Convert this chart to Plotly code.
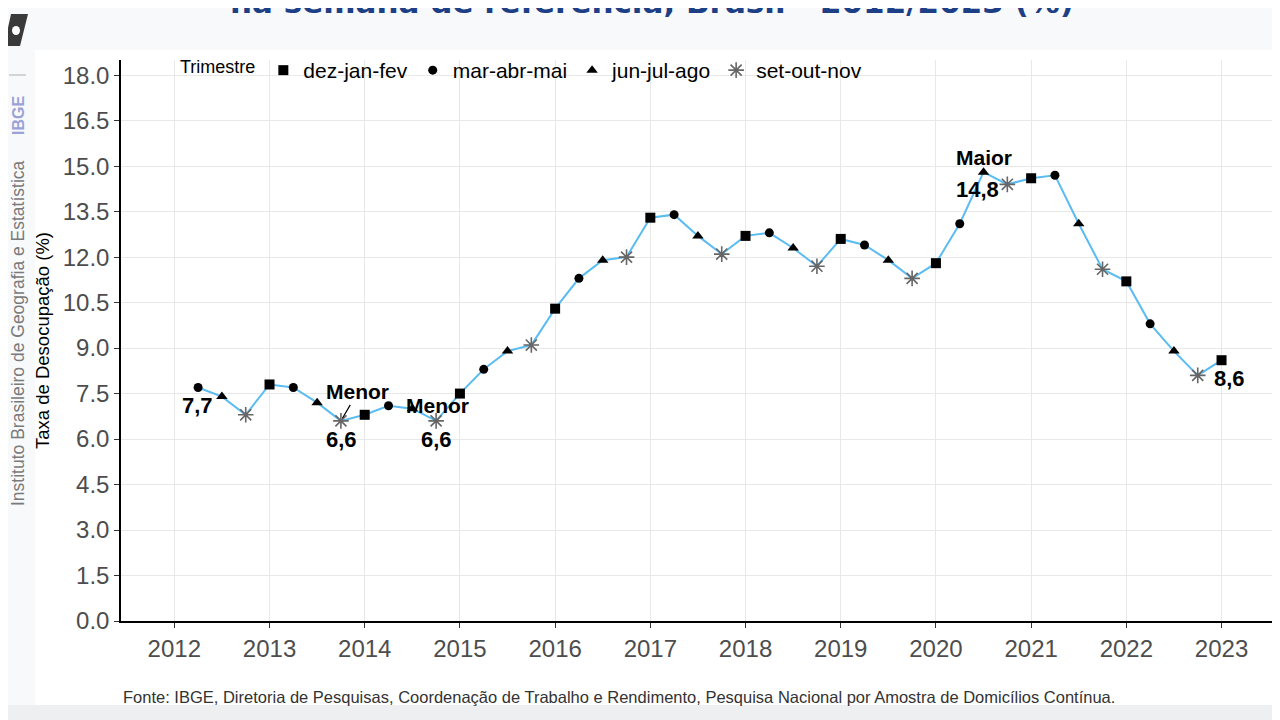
import plotly.graph_objects as go

# ---------------- data ----------------
trimestres = ["dez-jan-fev", "mar-abr-mai", "jun-jul-ago", "set-out-nov"]
trim_offset = {"dez-jan-fev": 0.0, "mar-abr-mai": 0.25, "jun-jul-ago": 0.5, "set-out-nov": 0.75}

anos = ([2012] * 3 + [2013] * 4 + [2014] * 4 + [2015] * 4 + [2016] * 4 + [2017] * 4 +
        [2018] * 4 + [2019] * 4 + [2020] * 4 + [2021] * 4 + [2022] * 4 + [2023])
trims = (trimestres[1:] + trimestres * 10 + trimestres[:1])
taxa = [7.7, 7.4, 6.8,
        7.8, 7.7, 7.2, 6.6,
        6.8, 7.1, 7.0, 6.6,
        7.5, 8.3, 8.9, 9.1,
        10.3, 11.3, 11.9, 12.0,
        13.3, 13.4, 12.7, 12.1,
        12.7, 12.8, 12.3, 11.7,
        12.6, 12.4, 11.9, 11.3,
        11.8, 13.1, 14.8, 14.4,
        14.6, 14.7, 13.1, 11.6,
        11.2, 9.8, 8.9, 8.1,
        8.6]

y_ticks = [0.0, 1.5, 3.0, 4.5, 6.0, 7.5, 9.0, 10.5, 12.0, 13.5, 15.0, 16.5, 18.0]
x_ticks = list(range(2012, 2024))

xpos = [a + trim_offset[t] for a, t in zip(anos, trims)]

FONT = "Liberation Sans, Arial, sans-serif"

# ---------------- geometry (page pixels -> paper); page has an 8px body margin ----------------
OFF = 8
W, H = 1280 - OFF, 720 - OFF
L, R, T, B = 113, 8, 52, 99
PW, PH = W - L - R, H - T - B
def px(x):
    return (x - OFF - L) / PW
def py(y):
    return (H - B - (y - OFF)) / PH

fig = go.Figure()

# line
fig.add_trace(go.Scatter(x=xpos, y=taxa, mode="lines",
                         line=dict(color="#5bbcf2", width=2), showlegend=False,
                         hoverinfo="skip"))

sym = {"dez-jan-fev": "square", "mar-abr-mai": "circle",
       "jun-jul-ago": "triangle-up", "set-out-nov": "asterisk-open"}
size = {"dez-jan-fev": 10, "mar-abr-mai": 9, "jun-jul-ago": 10, "set-out-nov": 13}
for t in trimestres:
    xs = [x for x, tt in zip(xpos, trims) if tt == t]
    ys = [v for v, tt in zip(taxa, trims) if tt == t]
    if t == "set-out-nov":
        marker = dict(symbol=sym[t], size=size[t], color="#666666",
                      line=dict(color="#666666", width=1.6))
    else:
        marker = dict(symbol=sym[t], size=size[t], color="black",
                      line=dict(width=0))
    fig.add_trace(go.Scatter(x=xs, y=ys, mode="markers", name=t, marker=marker))

# ---------------- annotations on points ----------------
def pt(i):
    return xpos[i], taxa[i]

num_font = dict(family=FONT, size=22, color="black")
word_font = dict(family=FONT, size=21, color="black")
def fmt(v):
    return ("%.1f" % v).replace(".", ",")

ann = []
x, y = pt(0)
ann.append(dict(x=x, y=y, text="<b>%s</b>" % fmt(y), showarrow=False, xshift=-1, yshift=-18, font=num_font))
i1 = 6
x, y = pt(i1)
ann.append(dict(x=x, y=y, text="<b>Menor</b>", showarrow=True, arrowhead=0, arrowwidth=1.2,
                arrowcolor="black", ax=17, ay=-29, standoff=3, font=word_font))
ann.append(dict(x=x, y=y, text="<b>%s</b>" % fmt(y), showarrow=False, xshift=1, yshift=-19, font=num_font))
i2 = 10
x, y = pt(i2)
ann.append(dict(x=x, y=y, text="<b>Menor</b>", showarrow=False, xshift=1, yshift=15, font=word_font))
ann.append(dict(x=x, y=y, text="<b>%s</b>" % fmt(y), showarrow=False, xshift=0, yshift=-19, font=num_font))
im = taxa.index(max(taxa))
x, y = pt(im)
ann.append(dict(x=x, y=y, text="<b>Maior</b>", showarrow=False, xshift=0, yshift=15, font=word_font))
ann.append(dict(x=x, y=y, text="<b>%s</b>" % fmt(y), showarrow=False, xshift=-6, yshift=-17, font=num_font))
x, y = pt(len(taxa) - 1)
ann.append(dict(x=x, y=y, text="<b>%s</b>" % fmt(y), showarrow=False, xshift=8, yshift=-18, font=num_font))

# ---------------- page decorations ----------------
ann.append(dict(xref="paper", yref="paper", x=px(652), y=py(2), xanchor="center", yanchor="middle",
                text="<b>na semana de referência, Brasil - 2012/2023 (%)</b>", showarrow=False,
                font=dict(family="DejaVu Sans, Verdana, sans-serif", size=31, color="#1d3f86")))
ann.append(dict(xref="paper", yref="paper", x=px(121), y=py(697), xanchor="left", yanchor="middle",
                text="Fonte: IBGE, Diretoria de Pesquisas, Coordenação de Trabalho e Rendimento, Pesquisa Nacional por Amostra de Domicílios Contínua.",
                showarrow=False, font=dict(family=FONT, size=16.5, color="#333333")))
ann.append(dict(xref="paper", yref="paper", x=px(18), y=py(333), xanchor="center", yanchor="middle",
                text="Instituto Brasileiro de Geografia e Estatística", textangle=-90,
                showarrow=False, font=dict(family=FONT, size=17.5, color="#7a7a7a")))
ann.append(dict(xref="paper", yref="paper", x=px(18), y=py(116), xanchor="center", yanchor="middle",
                text="<b>IBGE</b>", textangle=-90,
                showarrow=False, font=dict(family=FONT, size=16, color="#9aa2d8")))

shapes = [
    dict(type="rect", xref="paper", yref="paper", x0=px(0), x1=px(1280), y0=py(720), y1=py(0),
         fillcolor="#f8f9fa", line=dict(width=0), layer="below"),
    dict(type="rect", xref="paper", yref="paper", x0=px(35), x1=px(1280), y0=py(705), y1=py(50),
         fillcolor="white", line=dict(width=0), layer="below"),
    dict(type="rect", xref="paper", yref="paper", x0=px(0), x1=px(1280), y0=py(720), y1=py(705),
         fillcolor="#eeeff1", line=dict(width=0), layer="below"),
    dict(type="line", xref="paper", yref="paper", x0=px(9), x1=px(26), y0=py(75), y1=py(75),
         line=dict(color="#c8c8c8", width=1.5), layer="below"),
    # rough IBGE logo block
    dict(type="path", xref="paper", yref="paper",
         path="M %f,%f L %f,%f L %f,%f L %f,%f Z" % (px(4), py(46), px(20), py(46), px(28), py(14), px(11), py(14)),
         fillcolor="#3a3a3a", line=dict(width=0), layer="above"),
    dict(type="circle", xref="paper", yref="paper", x0=px(12), x1=px(20), y0=py(35), y1=py(26),
         fillcolor="white", line=dict(width=0), layer="above"),
]

fig.update_layout(
    width=W, height=H,
    margin=dict(l=L, r=R, t=T, b=B, pad=0),
    paper_bgcolor="#f8f9fa", plot_bgcolor="white",
    font=dict(family=FONT, color="#4d4d4d"),
    annotations=ann, shapes=shapes,
    legend=dict(orientation="h", x=px(178), xanchor="left", y=py(50), yanchor="top",
                bgcolor="rgba(0,0,0,0)", font=dict(family=FONT, size=21, color="black"),
                title=dict(text="Trimestre", font=dict(family=FONT, size=18, color="black")),
                itemwidth=30, tracegroupgap=0),
    xaxis=dict(range=[2011.44, 2023.53], tickmode="array", tickvals=x_ticks,
               ticktext=[str(v) for v in x_ticks],
               showgrid=True, gridcolor="#e8e8e8", gridwidth=1.2, zeroline=False,
               showline=True, linecolor="black", linewidth=1.5,
               ticks="outside", ticklen=5, tickcolor="#333333",
               tickfont=dict(family=FONT, size=24, color="#4d4d4d")),
    yaxis=dict(range=[0, 18.5], tickmode="array", tickvals=y_ticks,
               ticktext=["%.1f" % v for v in y_ticks],
               showgrid=True, gridcolor="#e8e8e8", gridwidth=1.2, zeroline=False,
               showline=True, linecolor="black", linewidth=1.5,
               ticks="outside", ticklen=5, tickcolor="#333333",
               tickfont=dict(family=FONT, size=24, color="#4d4d4d"),
               title=dict(text="Taxa de Desocupação (%)", standoff=8,
                          font=dict(family=FONT, size=18.5, color="black"))),
)

fig.write_html("out.html")
